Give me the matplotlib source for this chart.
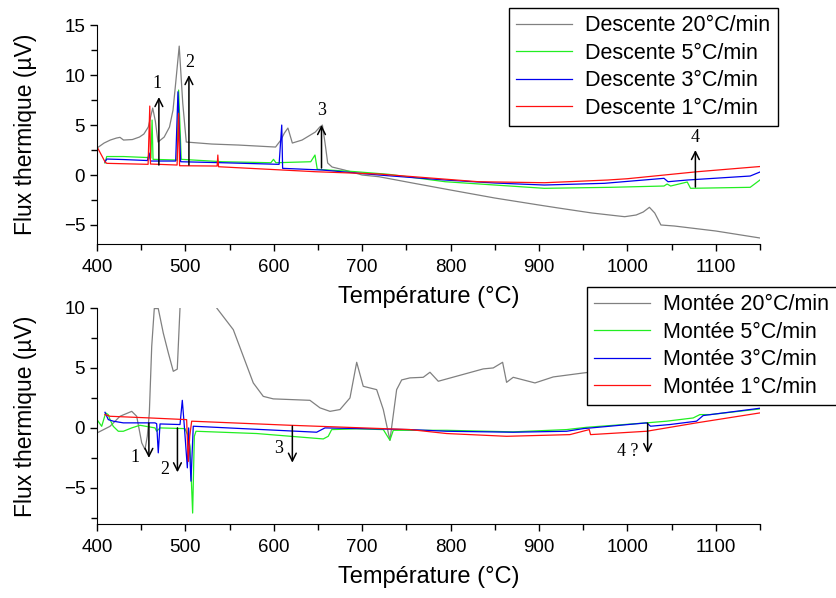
import matplotlib
matplotlib.use('Agg')
import matplotlib.pyplot as plt
from matplotlib.ticker import MultipleLocator

plt.rcParams['font.family'] = ['Liberation Sans', 'DejaVu Sans']

# --- Descente (cooling) ---
desc20_x = [400, 408, 415, 422, 426, 430, 440, 448, 453, 458, 463, 466, 469, 476, 482, 486, 489, 493,
            497, 501, 530, 560, 602, 608, 612, 616, 621, 632, 647, 652, 655, 658, 661, 666, 680, 700,
            719, 760, 800, 850, 900, 922, 960, 997, 1010, 1018, 1025, 1031, 1038, 1053, 1100, 1150]
desc20_y = [2.7, 3.2, 3.5, 3.7, 3.77, 3.5, 3.55, 3.8, 4.1, 4.8, 6.7, 5.4, 3.3, 3.8, 4.8, 6.5, 9.2, 12.9,
            7.2, 3.3, 3.1, 3.0, 2.8, 3.5, 4.2, 4.7, 3.2, 3.5, 4.3, 4.8, 5.0, 3.2, 1.2, 0.8, 0.5, 0.0,
            -0.17, -0.85, -1.5, -2.3, -3.0, -3.3, -3.8, -4.17, -4.0, -3.7, -3.23, -3.8, -5.0, -5.1, -5.6, -6.3]

desc5_x = [409, 411, 430, 457, 461, 462.3, 463.4, 490.6, 492.3, 495.3, 542, 596.7, 599.7, 602.4, 641.8,
           646.6, 649.2, 690, 730, 794, 850, 906, 981, 1041.5, 1045, 1049, 1067.8, 1071.5, 1139, 1150]
desc5_y = [1.2, 1.85, 1.85, 1.75, 1.7, 5.5, 1.57, 1.5, 8.5, 1.57, 1.33, 1.23, 1.57, 1.23, 1.33,
           2.0, 0.57, 0.35, 0.07, -0.67, -1.0, -1.33, -1.23, -1.1, -0.9, -1.1, -0.7, -1.33, -1.23, -0.5]

desc3_x = [409, 411, 430, 457, 459, 460.5, 489, 491.6, 494.6, 542, 606, 609, 610, 655, 719,
           794, 850, 906, 974, 1041.5, 1046, 1067.8, 1139, 1150]
desc3_y = [1.3, 1.6, 1.55, 1.45, 2.2, 1.4, 1.4, 8.33, 1.33, 1.23, 1.07, 5.0, 0.67, 0.5, 0.0,
           -0.5, -0.8, -1.0, -0.83, -0.33, -0.67, -0.5, -0.1, 0.3]

desc1_x = [400, 409, 411, 457.8, 459.7, 460.5, 490.6, 492.3, 493.4, 535.9, 536.7, 537.5, 647.4, 719,
           831.3, 906.4, 977.7, 1000, 1079, 1150]
desc1_y = [2.83, 1.33, 1.17, 1.07, 6.9, 1.1, 1.0, 6.17, 0.93, 0.9, 2.0, 0.83, 0.33, 0.1,
           -0.67, -0.77, -0.5, -0.37, 0.33, 0.85]

# --- Montee (heating) ---
mont20_x = [400, 414.7, 426, 439.3, 444.9, 450.6, 454.3, 456.9, 459.2, 461.9, 464.8, 469.3, 475, 480.7,
            486.3, 490.8, 493.9, 498, 505, 515, 525, 535.4, 554.2, 565.5, 576.8, 588.1, 599.4, 640.9,
            652.3, 663.6, 674.9, 686.2, 693.8, 701.2, 716.4, 723.9, 731.4, 739, 744.7, 754, 769.1,
            776.7, 786.1, 837, 848.3, 858.9, 863.4, 870.9, 895.5, 916.2, 950.1, 1000, 1050, 1100, 1150]
mont20_y = [-0.42, 0.13, 0.97, 1.38, 0.97, -1.25, -1.8, -0.7, 1.25, 6.8, 9.95, 9.95, 7.9, 6.25,
            4.72, 4.9, 10.0, 13.0, 15.0, 14.5, 12.0, 10.0, 8.19, 5.97, 3.75, 2.63, 2.42, 2.3,
            1.67, 1.38, 1.53, 2.5, 5.47, 3.47, 3.19, 1.53, -1.03, 3.19, 4.0, 4.17, 4.22,
            4.64, 3.89, 4.92, 5.0, 5.47, 3.8, 4.22, 3.75, 4.25, 4.58, 5.0, 5.4, 5.8, 6.2]

mont5_x = [400, 405.3, 409.8, 412.8, 414.7, 418.4, 424.1, 429.8, 439.3, 448.6, 465.6, 467.5, 471.3,
           499.5, 503.3, 505.2, 508.2, 510.1, 512, 580.7, 656, 661.6, 665.5, 693.8, 723.9, 731.4,
           735.2, 795.6, 870.9, 931.3, 953.9, 1021.8, 1044.4, 1074.5, 1082.1, 1093.4, 1150]
mont5_y = [0.69, 0.13, 1.25, 1.1, 0.69, 0.13, -0.28, -0.28, 0.0, 0.22, 0.0, -0.28, 0.0,
           -0.06, -0.7, -1.53, -7.1, -0.7, -0.28, -0.47, -0.92, -0.7, -0.14, -0.08, -0.14, -1.03,
           -0.2, -0.2, -0.33, -0.14, 0.05, 0.42, 0.56, 0.83, 1.11, 1.11, 1.58]

mont3_x = [409, 412.8, 418.4, 429.8, 465.6, 467.5, 469.3, 471.3, 493.9, 496.5, 498.8, 502.2, 503.7,
           506.3, 508.9, 648.5, 657.9, 754, 795.6, 870.9, 931.3, 950.1, 1021.8, 1026.3, 1048.1,
           1078.3, 1085.8, 1150]
mont3_y = [1.3, 0.69, 0.56, 0.42, 0.42, 0.35, -2.08, 0.33, 0.28, 2.3, 0.14, -3.33, 0.0,
           -4.44, 0.14, -0.36, 0.0, -0.14, -0.28, -0.36, -0.28, -0.06, 0.42, 0.14, 0.28,
           0.56, 1.03, 1.64]

mont1_x = [409, 414.7, 459.9, 501.4, 502.5, 503.3, 504.9, 507.1, 618.3, 754, 795.6, 863.4, 935,
           956.9, 958.4, 1021.8, 1078.3, 1150]
mont1_y = [1.11, 0.97, 0.83, 0.69, -1.5, -2.8, -0.7, 0.56, 0.22, -0.14, -0.47, -0.7, -0.56,
           -0.14, -0.56, -0.28, 0.42, 1.25]

# annotation arrows: (x, y_start, y_end, label, label_x, label_y)
top_arrows = [(470, 1.0, 7.8, '1', 468, 9.2), (504, 1.0, 10.0, '2', 505, 11.3),
              (654, 0.7, 5.0, '3', 654, 6.5), (1077, -1.2, 2.5, '4', 1077, 3.8)]
bot_arrows = [(458.7, 0.4, -2.5, '1', 443, -2.5), (491, 0.0, -3.7, '2', 477, -3.5),
              (621, 0.15, -2.9, '3', 606, -1.7), (1023, 0.4, -2.1, '4 ?', 1000, -1.95)]

c_gray, c_green, c_blue, c_red = '#808080', '#22ee22', '#0000ee', '#ff1010'

fig = plt.figure(figsize=(8.37, 5.98), dpi=100)
ax1 = fig.add_axes([0.1159, 0.592, 0.792, 0.366])
ax2 = fig.add_axes([0.1159, 0.124, 0.792, 0.361])

lw = 0.9
ax1.plot(desc20_x, desc20_y, color=c_gray, lw=lw, label='Descente 20°C/min')
ax1.plot(desc5_x, desc5_y, color=c_green, lw=lw, label='Descente 5°C/min')
ax1.plot(desc3_x, desc3_y, color=c_blue, lw=lw, label='Descente 3°C/min')
ax1.plot(desc1_x, desc1_y, color=c_red, lw=lw, label='Descente 1°C/min')

ax2.plot(mont20_x, mont20_y, color=c_gray, lw=lw, label='Montée 20°C/min')
ax2.plot(mont5_x, mont5_y, color=c_green, lw=lw, label='Montée 5°C/min')
ax2.plot(mont3_x, mont3_y, color=c_blue, lw=lw, label='Montée 3°C/min')
ax2.plot(mont1_x, mont1_y, color=c_red, lw=lw, label='Montée 1°C/min')

for ax, arrows in ((ax1, top_arrows), (ax2, bot_arrows)):
    for x, y0, y1, lab, lx, ly in arrows:
        ax.annotate('', xy=(x, y1), xytext=(x, y0),
                    arrowprops=dict(arrowstyle='->', lw=1.1, color='k', mutation_scale=14,
                                    shrinkA=0, shrinkB=0))
        ax.text(lx, ly, lab, family='Liberation Serif', fontsize=13, ha='center', va='center')

ax1.set_ylim(-6.9, 15)
ax2.set_ylim(-8, 10)
for ax in (ax1, ax2):
    ax.set_xlim(400, 1150)
    ax.spines['top'].set_visible(False)
    ax.spines['right'].set_visible(False)
    ax.xaxis.set_major_locator(MultipleLocator(100))
    ax.xaxis.set_minor_locator(MultipleLocator(50))
    ax.yaxis.set_major_locator(MultipleLocator(5))
    ax.yaxis.set_minor_locator(MultipleLocator(2.5))
    ax.tick_params(which='major', length=5, width=1, labelsize=13.5, direction='out')
    ax.tick_params(axis='x', which='major', pad=6)
    ax.tick_params(which='minor', length=4, width=1, direction='out')
    ax.set_xticks([400, 500, 600, 700, 800, 900, 1000, 1100])
    ax.set_xlabel('Température (°C)', fontsize=17, labelpad=7)
    ax.set_ylabel('Flux thermique (µV)', fontsize=16.5, labelpad=19)

leg_kw = dict(fontsize=15.5, frameon=True, fancybox=False, edgecolor='k', framealpha=1,
              handlelength=2.6, labelspacing=0.3, borderpad=0.34, handletextpad=0.6,
              loc='upper left', borderaxespad=0)
l1 = ax1.legend(bbox_to_anchor=(509 / 837, 1 - 8 / 598), bbox_transform=fig.transFigure, **leg_kw)
l2 = ax2.legend(bbox_to_anchor=(587 / 837, 1 - 287 / 598), bbox_transform=fig.transFigure, **leg_kw)
for l in (l1, l2):
    l.get_frame().set_linewidth(1)

fig.savefig('out.png', dpi=100)
